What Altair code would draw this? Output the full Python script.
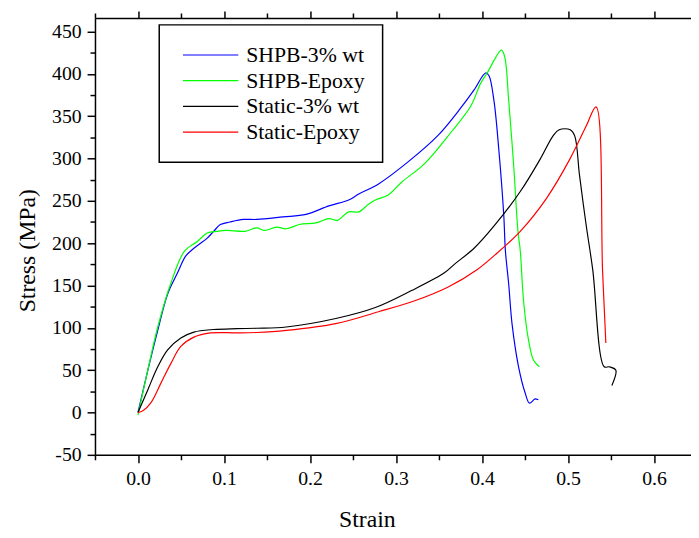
import altair as alt
import pandas as pd

series_names = ["SHPB-3% wt", "SHPB-Epoxy", "Static-3% wt", "Static-Epoxy"]
series_colors = ["#0000FF", "#00FF00", "#000000", "#FF0000"]

shpb3_x = [0, 0.0115, 0.023, 0.0345, 0.046, 0.0556, 0.065, 0.0805, 0.088, 0.0958, 0.107, 0.1226,
           0.138, 0.1686, 0.1954, 0.222, 0.245, 0.2567, 0.2797, 0.314, 0.3486, 0.3755, 0.3908,
           0.4042, 0.408, 0.4138, 0.4195, 0.4253, 0.4272, 0.431, 0.4349, 0.4425, 0.4502, 0.4552,
           0.4617, 0.4655]
shpb3_y = [0, 50, 97, 140, 165, 185, 194, 206, 214, 222, 225, 228,
           228, 231, 234, 244, 251, 258, 270, 296, 327, 360, 381,
           401, 398, 369, 311, 233, 191, 152, 105, 54, 23, 11,
           16, 15]

shpbep_x = [0, 0.012, 0.023, 0.038, 0.0537, 0.069, 0.0805, 0.092, 0.1034, 0.1245, 0.138, 0.1475,
            0.161, 0.1724, 0.1877, 0.207, 0.222, 0.2318, 0.245, 0.2567, 0.268, 0.276, 0.291,
            0.3065, 0.3333, 0.364, 0.387, 0.3985, 0.406, 0.4226, 0.4264, 0.431, 0.4368, 0.4418,
            0.4445, 0.4483, 0.454, 0.4598, 0.4667]
shpbep_y = [-3, 53, 101, 152, 190, 202, 212, 214, 215, 214, 218, 215,
            219, 217, 222, 224, 229, 227, 237, 237, 246, 251, 257,
            272, 294, 331, 362, 389, 401, 428, 420, 369, 292, 214,
            191, 132, 86, 62, 54]

static3_x = [0, 0.0115, 0.023, 0.0345, 0.0498, 0.065, 0.088, 0.115, 0.138, 0.1724, 0.23, 0.276,
             0.318, 0.3563, 0.3678, 0.3908, 0.4138, 0.4445, 0.4675, 0.4828, 0.4897, 0.5026,
             0.5077, 0.5134, 0.521, 0.5287, 0.5421, 0.548, 0.5556, 0.551]
static3_y = [0, 27, 54, 74, 88, 95, 98, 99, 99.5, 101, 111, 124,
             144, 165, 175, 194, 220, 261, 299, 327, 334, 334,
             327, 280, 222, 169, 54, 54, 50, 32]

staticep_x = [0, 0.0057, 0.0153, 0.0268, 0.0383, 0.0498, 0.065, 0.0843, 0.115, 0.138, 0.1724,
              0.23, 0.2797, 0.3218, 0.3601, 0.3946, 0.4138, 0.4445, 0.475, 0.502, 0.521, 0.5326,
              0.5402, 0.544]
staticep_y = [0, 2, 12, 35, 58, 78, 89, 94, 94, 94.5, 97,
              105, 119, 132, 148, 169, 185, 214, 253, 299, 338, 361,
              167, 82]

x_tick_values = [-0.05, 0.0, 0.05, 0.1, 0.15, 0.2, 0.25, 0.3, 0.35, 0.4, 0.45, 0.5, 0.55, 0.6]
y_tick_values = [-50, -25, 0, 25, 50, 75, 100, 125, 150, 175, 200, 225, 250, 275, 300, 325,
                 350, 375, 400, 425, 450]

rows = []
for name, xs, ys in zip(series_names,
                        [shpb3_x, shpbep_x, static3_x, staticep_x],
                        [shpb3_y, shpbep_y, static3_y, staticep_y]):
    for i, (xv, yv) in enumerate(zip(xs, ys)):
        rows.append({"series": name, "strain": xv, "stress": yv, "idx": i})
df = pd.DataFrame(rows)

FONT = "Liberation Serif"
x_major_test = "abs(datum.value*10 - round(datum.value*10)) < 0.001"
y_major_test = "abs(datum.value/50 - round(datum.value/50)) < 0.001"

x_scale = alt.Scale(domain=[-0.05, 0.643], nice=False, zero=False)
y_scale = alt.Scale(domain=[-50, 466], nice=False, zero=False)

y_axis = alt.Axis(values=y_tick_values, title="Stress (MPa)",
                  labelExpr=f"({y_major_test}) ? ('' + round(datum.value)) : ''",
                  tickSize={"condition": {"test": y_major_test, "value": 8}, "value": 5},
                  labelPadding=6, titlePadding=12, titleY=235)

lines = alt.Chart(df).mark_line(strokeWidth=1.2, clip=True, interpolate="catmull-rom").encode(
    x=alt.X("strain:Q", scale=x_scale,
            axis=alt.Axis(values=x_tick_values, title="Strain", orient="bottom",
                          labelExpr=f"({x_major_test}) && datum.value > -0.01 ? format(datum.value, '.1f') : ''",
                          tickSize={"condition": {"test": x_major_test, "value": 8}, "value": 5},
                          labelPadding=6, titlePadding=20, titleX=275)),
    y=alt.Y("stress:Q", scale=y_scale, axis=y_axis),
    color=alt.Color("series:N", scale=alt.Scale(domain=series_names, range=series_colors),
                    legend=alt.Legend(title=None)),
    order="idx:Q",
    detail="series:N",
)

top_axis = alt.Chart(df).mark_point(opacity=0).encode(
    x=alt.X("strain:Q", scale=x_scale,
            axis=alt.Axis(values=x_tick_values, orient="top", labels=False, title=None,
                          tickSize={"condition": {"test": x_major_test, "value": 7}, "value": 5})),
    y=alt.Y("stress:Q", scale=y_scale, axis=y_axis),
)

chart = alt.layer(lines, top_axis).resolve_axis(x="independent").properties(
    width=603, height=442,
    autosize=alt.AutoSizeParams(type="none"),
    padding={"left": 88, "top": 7, "right": 0, "bottom": 75},
).configure_view(stroke=None).configure_axis(
    labelFont=FONT, labelFontSize=20, labelColor="black",
    titleFont=FONT, titleFontSize=24, titleFontWeight="normal", titleColor="black",
    domainColor="black", domainWidth=1.5, tickColor="black", tickWidth=1.5, grid=False,
).configure_legend(
    orient="none", legendX=65, legendY=7,
    strokeColor="black", strokeWidth=1.5, fillColor="white", padding=18,
    clipHeight=25, rowPadding=1, symbolOffset=5,
    labelFont=FONT, labelFontSize=22, labelColor="black", labelOffset=7,
    symbolType="stroke", symbolSize=3136, symbolStrokeWidth=1.2,
)

chart.save("out.html", embed_options={"renderer": "svg", "actions": False})
